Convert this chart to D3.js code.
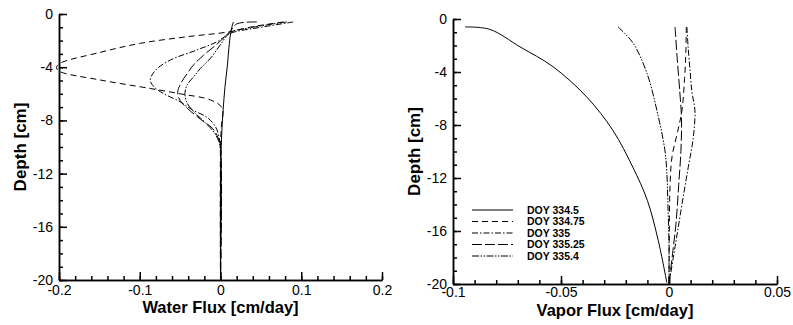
<!DOCTYPE html>
<html>
<head>
<meta charset="utf-8">
<script src="https://cdn.jsdelivr.net/npm/d3@7"></script>
<style>
  body { margin: 0; background: #fff; }
  svg { display: block; font-family: "Liberation Sans", Arial, sans-serif; }
</style>
</head>
<body>
<svg id="chart" width="793" height="325"></svg>
<script>
// series labels + line styles (same order for both panels)
var seriesNames = ["DOY 334.5", "DOY 334.75", "DOY 335", "DOY 335.25", "DOY 335.4"];
var dashes = [null, "6,4", "6,2,1.5,2", "10,3", "7,1.5,1.5,1.5,1.5,1.5"];

// water flux [cm/day], depth [cm]
var water334_5 = [[0.016,-0.6],[0.014,-1.0],[0.0124,-1.5],[0.0105,-2.5],[0.0083,-4],[0.0055,-5.5],[0.0033,-7.2],[0.0015,-9],[0.0005,-11],[0,-13],[0,-20]];
var water334_75 = [[0.078,-0.6],[0.04,-0.95],[0.012,-1.33],[-0.04,-1.7],[-0.099,-2.2],[-0.15,-2.9],[-0.2,-3.75],[-0.203,-4.05],[-0.2,-4.3],[-0.15,-4.95],[-0.087,-5.6],[-0.05,-6.0],[-0.012,-6.47],[0.002,-7.07],[0.001,-8.5],[0,-10],[0,-20]];
var water335 = [[0.09,-0.6],[0.05,-1.0],[0.0124,-1.45],[-0.004,-2.08],[-0.029,-2.7],[-0.062,-3.46],[-0.08,-4.2],[-0.087,-4.96],[-0.082,-5.5],[-0.07,-6.0],[-0.05,-6.6],[-0.035,-7.2],[-0.016,-7.8],[-0.006,-8.5],[-0.002,-9.2],[0,-10.2],[0,-20]];
var water335_25 = [[0.045,-0.6],[0.02,-0.75],[0.012,-1.3],[-0.005,-2.3],[-0.021,-3.1],[-0.033,-3.8],[-0.041,-4.46],[-0.049,-5.2],[-0.053,-5.9],[-0.05,-6.5],[-0.041,-7.1],[-0.025,-7.9],[-0.01,-8.6],[-0.003,-9.3],[0,-10],[0,-20]];
var water335_4 = [[0.082,-0.6],[0.04,-1.0],[0.012,-1.4],[0.0,-2.3],[-0.012,-3.3],[-0.025,-4.1],[-0.033,-4.7],[-0.041,-5.3],[-0.044,-5.9],[-0.042,-6.6],[-0.034,-7.3],[-0.02,-8.1],[-0.008,-8.9],[-0.002,-9.6],[0,-10.4],[0,-20]];

// vapor flux [cm/day], depth [cm]
var vapor334_5 = [[-0.0944,-0.6],[-0.083,-0.78],[-0.069,-2.1],[-0.0537,-3.6],[-0.038,-5.9],[-0.026,-8.4],[-0.0167,-11.2],[-0.010,-13.7],[-0.005,-16.7],[-0.001,-19.9]];
var vapor334_75 = [[0.008,-0.6],[0.0078,-2.5],[0.0072,-4.5],[0.006,-6.9],[0.004,-8.5],[0.0014,-10.4],[0.0005,-12.5],[0.0002,-15],[0,-20]];
var vapor335 = [[0.0083,-0.6],[0.0088,-2],[0.0098,-4],[0.0106,-5.5],[0.012,-6.9],[0.0112,-9],[0.0089,-11.2],[0.0065,-13.5],[0.004,-16],[0.002,-18],[0,-20]];
var vapor335_25 = [[0.0028,-0.6],[0.0038,-3],[0.005,-5.5],[0.0058,-7.5],[0.0055,-10],[0.0045,-12.5],[0.0032,-15.5],[0.0018,-17.5],[0,-20]];
var vapor335_4 = [[-0.0236,-0.6],[-0.0167,-1.8],[-0.0102,-4.1],[-0.0056,-6.9],[-0.0019,-9.9],[-0.001,-11.6],[-0.0005,-14],[0,-17],[0,-20]];

var depthTicks = [0, -4, -8, -12, -16, -20];
var waterTicks = [-0.2, -0.1, 0, 0.1, 0.2];
var vaporTicks = [-0.1, -0.05, 0, 0.05];

var svg = d3.select('#chart');

function drawPanel(opt) {
    var x = d3.scaleLinear().domain(opt.xDomain).range([opt.left, opt.right]);
    var y = d3.scaleLinear().domain([-20, 0]).range([opt.bottom, opt.top]);
    var g = svg.append('g');

    var line = d3.line()
        .x(function (d) { return x(d[0]); })
        .y(function (d) { return y(d[1]); })
        .curve(d3.curveCatmullRom.alpha(0.5));

    g.selectAll('path.series')
        .data(opt.series)
        .enter()
        .append('path')
        .attr('class', 'series')
        .attr('d', line)
        .attr('fill', 'none')
        .attr('stroke', '#000')
        .attr('stroke-width', 1)
        .attr('stroke-dasharray', function (d, i) { return dashes[i]; });

    // minor ticks
    g.append('g')
        .attr('transform', 'translate(' + opt.left + ',0)')
        .call(d3.axisLeft(y).tickValues(d3.range(-20, 1, 1)).tickSize(-4).tickSizeOuter(0).tickFormat(''));
    g.append('g')
        .attr('transform', 'translate(0,' + opt.bottom + ')')
        .call(d3.axisBottom(x).tickValues(opt.xMinor).tickSize(-4).tickSizeOuter(0).tickFormat(''));

    // major ticks + labels
    g.append('g')
        .attr('class', 'yaxis')
        .attr('transform', 'translate(' + opt.left + ',0)')
        .call(d3.axisLeft(y).tickValues(depthTicks).tickSize(-8).tickSizeOuter(0).tickPadding(6)
            .tickFormat(function (d) { return String(d); }));
    g.append('g')
        .attr('class', 'xaxis')
        .attr('transform', 'translate(0,' + opt.bottom + ')')
        .call(d3.axisBottom(x).tickValues(opt.xTicks).tickSize(-8).tickSizeOuter(0).tickPadding(opt.xPad)
            .tickFormat(function (d) { return String(d); }));

    g.selectAll('.domain, .tick line').attr('stroke', '#000').attr('stroke-width', 1.5);
    g.selectAll('.tick text')
        .attr('fill', '#000')
        .style('font-family', '"Liberation Sans", Arial, sans-serif')
        .style('font-size', '14px');

    g.append('text')
        .attr('transform', 'translate(' + opt.yTitleX + ',' + ((opt.top + opt.bottom) / 2) + ') rotate(-90)')
        .attr('text-anchor', 'middle')
        .style('font-size', '17px')
        .style('font-weight', 'bold')
        .text('Depth [cm]');

    g.append('text')
        .attr('x', (opt.left + opt.right) / 2)
        .attr('y', opt.xTitleY)
        .attr('text-anchor', 'middle')
        .style('font-size', '16.5px')
        .style('font-weight', 'bold')
        .text(opt.xTitle);

    return {x: x, y: y, g: g};
}

drawPanel({
    left: 59, right: 382, top: 14, bottom: 280,
    xDomain: [-0.2, 0.2],
    xTicks: waterTicks, xPad: 5,
    xMinor: d3.range(-20, 21, 2).map(function (d) { return d / 100; }),
    series: [water334_5, water334_75, water335, water335_25, water335_4],
    xTitle: 'Water Flux [cm/day]',
    yTitleX: 26, xTitleY: 313
});

drawPanel({
    left: 453, right: 777, top: 19, bottom: 284,
    xDomain: [-0.1, 0.05],
    xTicks: vaporTicks, xPad: 3,
    xMinor: d3.range(-10, 6, 1).map(function (d) { return d / 100; }),
    series: [vapor334_5, vapor334_75, vapor335, vapor335_25, vapor335_4],
    xTitle: 'Vapor Flux [cm/day]',
    yTitleX: 420, xTitleY: 316
});

// legend
var legend = svg.append('g').attr('transform', 'translate(472,210)');
var rows = legend.selectAll('g')
    .data(seriesNames)
    .enter()
    .append('g')
    .attr('transform', function (d, i) { return 'translate(0,' + (i * 11.5) + ')'; });
rows.append('line')
    .attr('x1', 0).attr('x2', 41)
    .attr('stroke', '#000')
    .attr('stroke-width', 1)
    .attr('stroke-dasharray', function (d, i) { return dashes[i]; });
rows.append('text')
    .attr('x', 55)
    .attr('dy', '0.35em')
    .style('font-size', '10.5px')
    .style('font-weight', 'bold')
    .text(function (d) { return d; });
</script>
</body>
</html>
